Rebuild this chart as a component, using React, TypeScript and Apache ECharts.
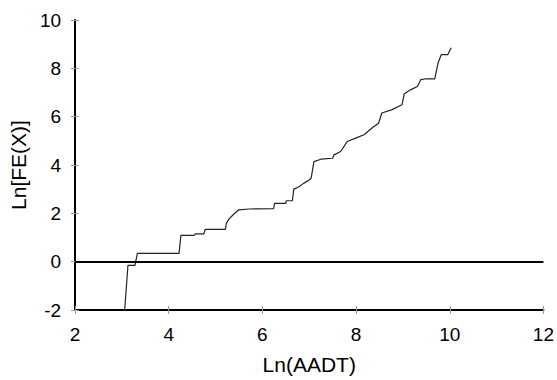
import React, { useEffect, useRef } from "react";
import * as echarts from "echarts";

const lnAadt = [
  3.06, 3.13, 3.28, 3.33, 4.22, 4.26, 4.54, 4.57, 4.75, 4.78, 5.21, 5.23, 5.28,
  5.37, 5.49, 5.72, 6.24, 6.26, 6.5, 6.51, 6.64, 6.67, 6.78, 6.88, 7.0, 7.04,
  7.1, 7.25, 7.5, 7.53, 7.67, 7.81, 7.99, 8.17, 8.34, 8.48, 8.55, 8.77, 8.98,
  9.03, 9.17, 9.31, 9.38, 9.47, 9.68, 9.75, 9.82, 9.96, 10.03,
];
const lnFeX = [
  -2, -0.15, -0.15, 0.34, 0.34, 1.09, 1.09, 1.15, 1.15, 1.34, 1.34, 1.58, 1.75,
  1.93, 2.14, 2.18, 2.19, 2.41, 2.41, 2.52, 2.52, 3.0, 3.1, 3.24, 3.38, 3.45,
  4.14, 4.24, 4.28, 4.42, 4.56, 4.97, 5.11, 5.25, 5.53, 5.73, 6.15, 6.29, 6.49,
  6.95, 7.12, 7.25, 7.53, 7.56, 7.56, 8.22, 8.57, 8.57, 8.85,
];
const xTicks = [2, 4, 6, 8, 10, 12];
const yTicks = [-2, 0, 2, 4, 6, 8, 10];
const xTitle = "Ln(AADT)";
const yTitle = "Ln[FE(X)]";

export default function App() {
  const ref = useRef<HTMLDivElement>(null);
  useEffect(() => {
    if (!ref.current) return;
    const chart = echarts.init(ref.current, null, { renderer: "svg" });
    const font = "Arial, 'Liberation Sans', sans-serif";
    const xMin = xTicks[0];
    const xMax = xTicks[xTicks.length - 1];
    const yMin = yTicks[0];
    const yMax = yTicks[yTicks.length - 1];
    chart.setOption({
      animation: false,
      backgroundColor: "#ffffff",
      grid: { left: 75, right: 9, top: 20, bottom: 70, containLabel: false },
      xAxis: [
        {
          type: "value",
          min: xMin,
          max: xMax,
          interval: 2,
          position: "bottom",
          name: xTitle,
          nameLocation: "middle",
          nameGap: 44,
          nameTextStyle: { fontSize: 21, color: "#000", fontFamily: font },
          axisLine: { show: true, onZero: false, lineStyle: { color: "#000", width: 2 } },
          axisTick: { show: true, length: 4, lineStyle: { color: "#999", width: 1 } },
          axisLabel: { fontSize: 19, color: "#000", fontFamily: font, margin: 15 },
          splitLine: { show: false },
        },
        {
          type: "value",
          min: xMin,
          max: xMax,
          interval: 2,
          position: "bottom",
          axisLine: { show: false, onZero: false },
          axisTick: { show: true, inside: true, length: 4, lineStyle: { color: "#999", width: 1 } },
          axisLabel: { show: false },
          splitLine: { show: false },
        },
      ],
      yAxis: [
        {
          type: "value",
          min: yMin,
          max: yMax,
          interval: 2,
          position: "left",
          name: yTitle,
          nameLocation: "middle",
          nameGap: 42,
          nameTextStyle: { fontSize: 21, color: "#000", fontFamily: font },
          axisLine: { show: true, onZero: false, lineStyle: { color: "#000", width: 2 } },
          axisTick: { show: true, length: 4, lineStyle: { color: "#999", width: 1 } },
          axisLabel: { fontSize: 19, color: "#000", fontFamily: font, margin: 14 },
          splitLine: { show: false },
        },
        {
          type: "value",
          min: yMin,
          max: yMax,
          interval: 2,
          position: "left",
          axisLine: { show: false, onZero: false },
          axisTick: { show: true, inside: true, length: 4, lineStyle: { color: "#999", width: 1 } },
          axisLabel: { show: false },
          splitLine: { show: false },
        },
      ],
      series: [
        {
          type: "line",
          xAxisIndex: 0,
          yAxisIndex: 0,
          data: lnAadt.map((x, i) => [x, lnFeX[i]]),
          symbol: "none",
          lineStyle: { color: "#222", width: 1.2 },
          markLine: {
            silent: true,
            symbol: "none",
            label: { show: false },
            lineStyle: { color: "#000", width: 2, type: "solid" },
            data: [{ yAxis: 0 }],
          },
        },
      ],
    });
    return () => chart.dispose();
  }, []);
  return <div ref={ref} style={{ width: 557, height: 380, position: "absolute", left: 0, top: 0 }} />;
}
